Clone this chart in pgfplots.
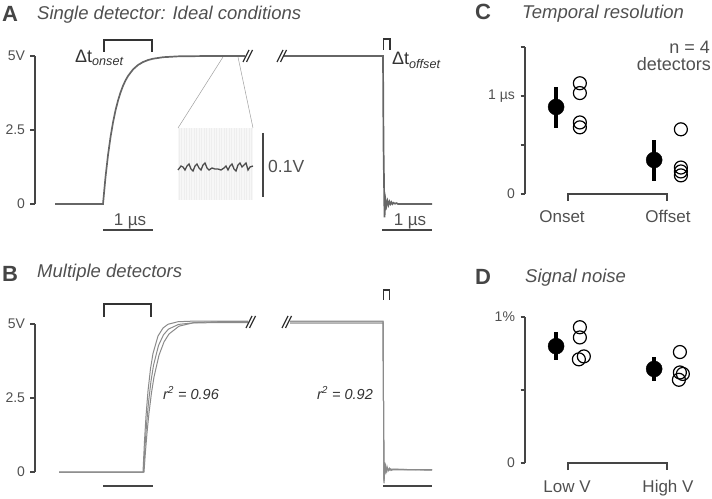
\documentclass[border=0pt]{standalone}
\usepackage{fontspec}
\setmainfont{Liberation Sans}
\usepackage{pgfplots}
\pgfplotsset{compat=1.18}
\definecolor{txt}{HTML}{505050}
\definecolor{axc}{HTML}{454545}
\definecolor{trc}{HTML}{666666}
\definecolor{trb}{HTML}{8A8A8A}
\definecolor{brk}{HTML}{333333}
\newcommand{\fs}[1]{\fontsize{#1}{#1}\selectfont}

\pgfplotsset{
  base/.style={scale only axis, clip=false, anchor=south west},
  yax/.style={base, axis y line=left, axis x line=none, xtick=\empty,
    axis line style={-, axc, line width=1.4pt},
    tick align=outside, major tick length=4.5pt,
    tick style={axc, line width=1.2pt},
    yticklabel style={font=\fs{14}, text=txt, xshift=-2pt}},
  bare/.style={base, axis lines=none},
  filled/.style={black, only marks, mark=*, mark size=8pt,
    error bars/.cd, y dir=both, y explicit, error mark=none,
    error bar style={line width=3.8pt, black}},
  open/.style={black, only marks, mark=o, mark size=6.5pt, mark options={line width=1.2pt}},
}

\begin{document}
\begin{tikzpicture}[x=1pt,y=1pt]
\path[use as bounding box] (0,0) rectangle (712,498);

% inset background (panel A)
\begin{scope}[shift={(0,498)}, yscale=-1]
  \fill[gray!6] (178,128) rectangle (253,200);
  \foreach \x in {179,181.5,...,252} \draw[gray!13, line width=0.7pt] (\x,128) -- (\x,200);
  \draw[gray!75, line width=0.5pt] (223,57) -- (178,128);
  \draw[gray!75, line width=0.5pt] (238,57) -- (253,128);
\end{scope}

% ---------- A: single detector ----------
\begin{axis}[yax, at={(35pt,294pt)}, width=217pt, height=148pt,
  xmin=-1.36, xmax=2.98, ymin=0, ymax=5,
  ytick={0,2.5,5}, yticklabels={0,2.5,5V}]
\addplot[trc, line width=1.7pt] coordinates {(-0.96,0) (0,0) (0.05,0.906) (0.1,1.648) (0.15,2.256) (0.2,2.753) (0.25,3.161) (0.3,3.494) (0.35,3.767) (0.4,3.991) (0.45,4.174) (0.5,4.323) (0.6,4.546) (0.7,4.696) (0.8,4.796) (0.9,4.863) (1.0,4.908) (1.2,4.959) (1.5,4.988) (2.0,4.998) (2.84,5)};
\end{axis}

\begin{axis}[bare, at={(283pt,294pt)}, width=149pt, height=148pt,
  xmin=-2.0, xmax=0.98, ymin=0, ymax=5]
\addplot[trc, line width=1.7pt] coordinates {(-2.0,5) (0,5) (0.01,2.0) (0.03,-0.45) (0.05,0.15) (0.07,-0.06) (0.09,0.1) (0.11,-0.03) (0.13,0.08) (0.15,0.0) (0.17,0.06) (0.19,0.0) (0.21,0.04) (0.24,0.01) (0.27,0.03) (0.3,0) (0.98,0)};
\end{axis}

% inset noise trace
\begin{axis}[bare, at={(178pt,301pt)}, width=75pt, height=64pt,
  xmin=0, xmax=75, ymin=-50, ymax=50]
\addplot[black!70, line width=1.3pt] coordinates {(0,-7.8) (3,-1.6) (5,-3.1) (7,-7.8) (9,-1.6) (11,1.6) (13,-6.3) (15,-9.4) (17,-1.6) (19,1.6) (21,-4.7) (23,-7.8) (25,0) (27,3.1) (29,-4.7) (31,-7.8) (34,-4.7) (37,-6.3) (40,-6.3) (43,-7.8) (46,-4.7) (48,-1.6) (50,-7.8) (52,-1.6) (54,1.6) (56,-6.3) (58,-9.4) (60,0) (62,3.1) (64,-3.1) (66,0) (68,3.1) (70,-7.8) (72,-3.1) (75,-1.6)};
\end{axis}

% ---------- B: multiple detectors ----------
\begin{axis}[yax, at={(35pt,26pt)}, width=217pt, height=148pt,
  xmin=-2.16, xmax=2.18, ymin=0, ymax=5,
  ytick={0,2.5,5}, yticklabels={0,2.5,5V}]
\addplot[trb, line width=1pt] coordinates {(-1.68,0) (0,0) (0.03,1.051) (0.06,1.885) (0.1,2.737) (0.15,3.491) (0.2,4.005) (0.3,4.593) (0.4,4.865) (0.5,4.991) (0.7,5.077) (1.0,5.097) (2.1,5.1)};
\addplot[trb, line width=1pt] coordinates {(-1.68,0) (0.02,0) (0.05,0.708) (0.08,1.317) (0.12,1.999) (0.17,2.680) (0.22,3.211) (0.32,3.947) (0.42,4.393) (0.52,4.663) (0.72,4.927) (1.02,5.046) (1.5,5.077) (2.1,5.08)};
\addplot[trb, line width=1pt] coordinates {(-1.68,0) (0.01,0) (0.04,0.864) (0.07,1.579) (0.11,2.347) (0.16,3.072) (0.21,3.603) (0.31,4.275) (0.41,4.635) (0.51,4.828) (0.71,4.986) (1.01,5.04) (2.1,5.05)};
\end{axis}

\begin{axis}[bare, at={(283pt,26pt)}, width=149pt, height=148pt,
  xmin=-2.0, xmax=0.98, ymin=0, ymax=5]
\addplot[trb, line width=1pt] coordinates {(-1.86,5.1) (0,5.1) (0.02,-0.38) (0.04,0.25) (0.06,0.0) (0.08,0.18) (0.1,0.03) (0.13,0.13) (0.16,0.05) (0.2,0.09) (0.98,0.07)};
\addplot[trb, line width=1pt] coordinates {(-1.86,5.07) (0,5.07) (0.02,-0.3) (0.04,0.2) (0.06,0.02) (0.08,0.15) (0.11,0.05) (0.14,0.11) (0.18,0.07) (0.98,0.08)};
\addplot[trb, line width=1pt] coordinates {(-1.86,5.03) (0,5.03) (0.02,-0.25) (0.05,0.22) (0.07,0.03) (0.09,0.14) (0.12,0.06) (0.16,0.1) (0.98,0.06)};
\end{axis}

% ---------- C: temporal resolution ----------
\begin{axis}[yax, at={(525pt,304pt)}, width=175pt, height=147pt,
  xmin=-0.434, xmax=1.333, ymin=0, ymax=1.5,
  ytick={0,0.5,1,1.5}, yticklabels={0,,1 µs,}]
\addplot[filled] coordinates {(-0.12,0.888) += (0,0.202) -= (0,0.218) (0.87,0.347) += (0,0.203) -= (0,0.217)};
\addplot[open] coordinates {(0.12,1.13) (0.12,1.03) (0.12,0.73) (0.12,0.68) (1.14,0.66) (1.14,0.27) (1.14,0.23) (1.14,0.19)};
\end{axis}

% ---------- D: signal noise ----------
\begin{axis}[yax, at={(525pt,35pt)}, width=175pt, height=146pt,
  xmin=-0.434, xmax=1.333, ymin=0, ymax=1,
  ytick={0,0.5,1}, yticklabels={0,,1\%}]
\addplot[filled] coordinates {(-0.12,0.80) += (0,0.097) -= (0,0.095) (0.87,0.644) += (0,0.082) -= (0,0.082)};
\addplot[open] coordinates {(0.12,0.93) (0.12,0.86) (0.11,0.71) (0.16,0.73) (1.13,0.76) (1.13,0.62) (1.16,0.61) (1.12,0.57)};
\end{axis}

% ---------- annotations ----------
\begin{scope}[shift={(0,498)}, yscale=-1]
  % panel letters and titles
  \node[anchor=base west, inner sep=0, font=\fs{22}\bfseries, text=axc] at (2,22) {A};
  \node[anchor=base west, inner sep=0, font=\fs{18.5}\itshape, text=txt] at (37,19.5) {Single detector: Ideal conditions};
  \node[anchor=base west, inner sep=0, font=\fs{22}\bfseries, text=axc] at (2,281.5) {B};
  \node[anchor=base west, inner sep=0, font=\fs{18.5}\itshape, text=txt] at (37,277.5) {Multiple detectors};
  \node[anchor=base west, inner sep=0, font=\fs{22}\bfseries, text=axc] at (475,20) {C};
  \node[anchor=base west, inner sep=0, font=\fs{18.5}\itshape, text=txt] at (522,18.5) {Temporal resolution};
  \node[anchor=base west, inner sep=0, font=\fs{22}\bfseries, text=axc] at (475,285) {D};
  \node[anchor=base west, inner sep=0, font=\fs{18.5}\itshape, text=txt] at (525,283) {Signal noise};

  % brackets
  \draw[brk, line width=1.4pt] (104,52) -- (104,40) -- (152,40) -- (152,52);
  \draw[brk, line width=1.4pt] (383.5,50) -- (383.5,39) -- (390,39) -- (390,50);
  \draw[brk, line width=1.4pt] (104,317) -- (104,304) -- (151,304) -- (151,317);
  \draw[brk, line width=1.4pt] (383.5,300) -- (383.5,290) -- (389.5,290) -- (389.5,300);
  \node[anchor=base west, inner sep=0, font=\fs{18}, text=brk] at (75,63) {Δt\textsubscript{\itshape onset}};
  \node[anchor=base west, inner sep=0, font=\fs{18}, text=brk] at (392,65) {Δt\textsubscript{\itshape offset}};

  % axis breaks
  \draw[brk, line width=1.3pt] (243,62) -- (249,50) (246.5,62) -- (252.5,50);
  \draw[brk, line width=1.3pt] (277,62) -- (283,50) (280.5,62) -- (286.5,50);
  \draw[brk, line width=1.3pt] (246,328) -- (252,316) (249.5,328) -- (255.5,316);
  \draw[brk, line width=1.3pt] (282,328) -- (288,316) (285.5,328) -- (291.5,316);

  % time scale bars
  \draw[axc, line width=1.5pt] (103,230) -- (153,230);
  \node[anchor=base, inner sep=0, font=\fs{17}, text=txt] at (130,226) {1 µs};
  \draw[axc, line width=1.5pt] (382,230) -- (432,230);
  \node[anchor=base, inner sep=0, font=\fs{17}, text=txt] at (410,226) {1 µs};
  \draw[axc, line width=1.5pt] (103,486) -- (153,486);
  \draw[axc, line width=1.5pt] (383,486) -- (432,486);

  % inset voltage scale bar
  \draw[axc, line width=1.5pt] (263,133) -- (263,197);
  \node[anchor=west, inner sep=0, font=\fs{17.5}, text=txt] at (268,166) {0.1V};

  % fit quality
  \node[inner sep=0, font=\fs{14.5}\itshape, text=brk] at (191,393) {r\textsuperscript{2} = 0.96};
  \node[inner sep=0, font=\fs{14.5}\itshape, text=brk] at (345,393) {r\textsuperscript{2} = 0.92};

  % C annotations
  \node[anchor=base east, inner sep=0, font=\fs{18}, text=txt] at (710,54) {n = 4};
  \node[anchor=base east, inner sep=0, font=\fs{18}, text=txt] at (711,71) {detectors};
  \draw[axc, line width=1.4pt] (568,201) -- (568,194) -- (667,194) -- (667,201);
  \node[anchor=base, inner sep=0, font=\fs{17}, text=txt] at (562,223) {Onset};
  \node[anchor=base, inner sep=0, font=\fs{17}, text=txt] at (668,223) {Offset};

  % D annotations
  \draw[axc, line width=1.4pt] (568,470) -- (568,463) -- (667,463) -- (667,470);
  \node[anchor=base, inner sep=0, font=\fs{17}, text=txt] at (567,492) {Low V};
  \node[anchor=base, inner sep=0, font=\fs{17}, text=txt] at (668,492) {High V};
\end{scope}
\end{tikzpicture}
\end{document}
